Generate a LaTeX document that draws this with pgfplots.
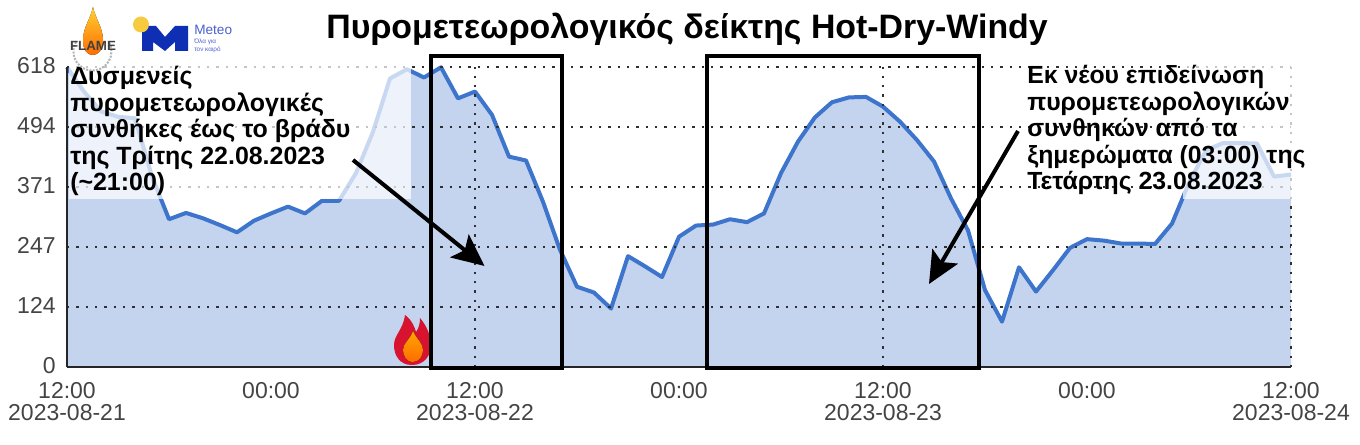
\documentclass[border=0pt]{standalone}
\usepackage{fontspec}
\setmainfont{Liberation Sans}
\usepackage{pgfplots}
\usepackage{pgfplotstable}
\pgfplotsset{compat=1.18}
\usetikzlibrary{arrows.meta}
\definecolor{areafill}{HTML}{C4D3EE}
\definecolor{linecol}{HTML}{3D74CC}
\definecolor{gridcol}{HTML}{303030}
\definecolor{ticktext}{HTML}{444444}
\definecolor{mblue}{HTML}{0E2FB4}
\definecolor{mtext}{HTML}{4A5FD0}
\definecolor{myellow}{HTML}{F7CB3F}
\definecolor{firered}{HTML}{D8132F}
\pgfplotstableread{
h v
0 618
1 568
2 527
3 516
4 513
5 393
6 305
7 318
8 307
9 293
10 278
11 302
12 317
13 331
14 317
15 343
16 343
17 400
18 485
19 595
20 614
21 597
22 618
23 554
24 568
25 520
26 434
27 426
28 341
29 242
30 166
31 154
32 121
33 229
34 208
35 186
36 269
37 292
38 294
39 305
40 299
41 317
42 400
43 465
44 515
45 546
46 556
47 557
48 537
49 506
50 468
51 424
52 348
53 282
54 159
55 94
56 206
57 156
58 200
59 246
60 264
61 261
62 255
63 255
64 254
65 296
66 380
67 447
68 462
69 462
70 461
71 393
72 397
}\hdw
\begin{document}
\begin{tikzpicture}[x=0.75pt,y=-0.75pt]
\useasboundingbox (0,0) rectangle (1360,445);
\begin{axis}[
  at={(50.25pt,-275.475pt)}, anchor=south west,
  scale only axis, width=918pt, height=225pt,
  xmin=0, xmax=72, ymin=0, ymax=618,
  axis x line*=bottom, axis y line*=left,
  axis line style={draw=black!85, line width=1.3pt},
  axis on top, clip=false,
  xtick={0,12,24,36,48,60,72},
  xticklabels={{12:00\\2023-08-21},{00:00},{12:00\\2023-08-22},{00:00},{12:00\\2023-08-23},{00:00},{12:00\\2023-08-24}},
  ytick={0,123.6,247.2,370.8,494.4,618},
  yticklabels={0,124,247,371,494,618},
  major tick length=0pt,
  ymajorgrids=true,
  extra x ticks={24,48,72},
  extra x tick labels={},
  extra x tick style={xmajorgrids=true},
  major grid style={draw=gridcol, line width=1.6pt, dash pattern=on 1.8pt off 5.2pt},
  x tick label style={font=\fontsize{17.25}{16.5}\selectfont, text=ticktext, align=center, yshift=-8pt},
  y tick label style={font=\fontsize{17.25}{20}\selectfont, text=ticktext, xshift=-5pt, yshift=1pt},
  /pgf/number format/assume math mode=true,
]
\addplot[fill=areafill, draw=none] table[x=h,y=v] {\hdw} \closedcycle;
\addplot[draw=linecol, line width=3pt, line join=round] table[x=h,y=v] {\hdw};
\end{axis}
% fading veils
\fill[white,opacity=0.72] (68.5,58) rectangle (411,198.7);
\fill[white,opacity=0.72] (1183,58) rectangle (1293,198.7);
% fire emoji
\fill[firered] (412,365) .. controls (400,365) and (394,356) .. (394,345)
  .. controls (394,335) and (403,330) .. (405,315)
  .. controls (412,320) and (415,328) .. (416,332)
  .. controls (419,328) and (420,323) .. (420,318)
  .. controls (426,325) and (431,335) .. (431,345)
  .. controls (431,356) and (424,365) .. (412,365) -- cycle;
\fill[top color=orange!70!yellow,bottom color=orange!85!red] (413,362) .. controls (406,362) and (403,355) .. (403,350)
  .. controls (403,343) and (410,340) .. (413,331)
  .. controls (417,340) and (423,343) .. (423,350)
  .. controls (423,356) and (419,362) .. (413,362) -- cycle;
% boxes
\draw[black,line width=3pt] (431,56) rectangle (562,368);
\draw[black,line width=3pt] (707,56) rectangle (979,368);
% arrows
\draw[black,line width=3pt,-{Stealth[length=24pt,width=22pt,inset=5pt]}] (353,160) -- (484.5,266);
\draw[black,line width=3pt,-{Stealth[length=24pt,width=22pt,inset=5pt]}] (1018,131) -- (929,284);
% title
\node[font=\fontsize{25.4}{28}\selectfont\bfseries, anchor=center] at (687,29) {Πυρομετεωρολογικός δείκτης Hot-Dry-Windy};
% annotations
\node[font=\fontsize{18.7}{19.9}\selectfont\bfseries, align=left, anchor=north west, inner sep=0pt] at (70,66)
 {Δυσμενείς\\πυρομετεωρολογικές\\συνθήκες έως το βράδυ\\της Τρίτης 22.08.2023\\(\textasciitilde 21:00)};
\node[font=\fontsize{18.6}{19.9}\selectfont\bfseries, align=left, anchor=north west, inner sep=0pt] at (1027,65)
 {Εκ νέου επιδείνωση\\πυρομετεωρολογικών\\συνθηκών από τα\\ξημερώματα (03:00) της\\Τετάρτης 23.08.2023};
% FLAME logo
\draw[gray!60,line width=1.5pt,dash pattern=on 1.5pt off 1pt] (76,42) arc[start angle=210,end angle=-30,radius=19];
\fill[top color=orange!45!yellow!80!white,bottom color=orange!85!red] (93,7) .. controls (96,20) and (103,28) .. (103,40)
  .. controls (103,50) and (98,55) .. (93,55)
  .. controls (87,55) and (83,50) .. (83,40)
  .. controls (83,28) and (90,20) .. (93,7) -- cycle;
\node[font=\fontsize{10}{12}\selectfont\bfseries, text=black!75, inner sep=0pt] at (93,46) {FLAME};
% Meteo logo
\fill[mblue] (142,51) -- (142,26) -- (156,26) -- (165,37) -- (175,26) -- (188,26) -- (188,51)
  -- (175,51) -- (175,42) -- (165,51) -- (153,42) -- (153,51) -- cycle;
\fill[myellow] (141,24.5) circle[radius=8];
\node[font=\fontsize{10.2}{11}\selectfont, text=mtext, anchor=west, inner sep=0pt] at (194,30) {Meteo};
\node[font=\fontsize{4.8}{6}\selectfont, text=mtext, anchor=west, inner sep=0pt, align=left] at (194,46) {Όλα για\\τον καιρό};
\end{tikzpicture}
\end{document}
